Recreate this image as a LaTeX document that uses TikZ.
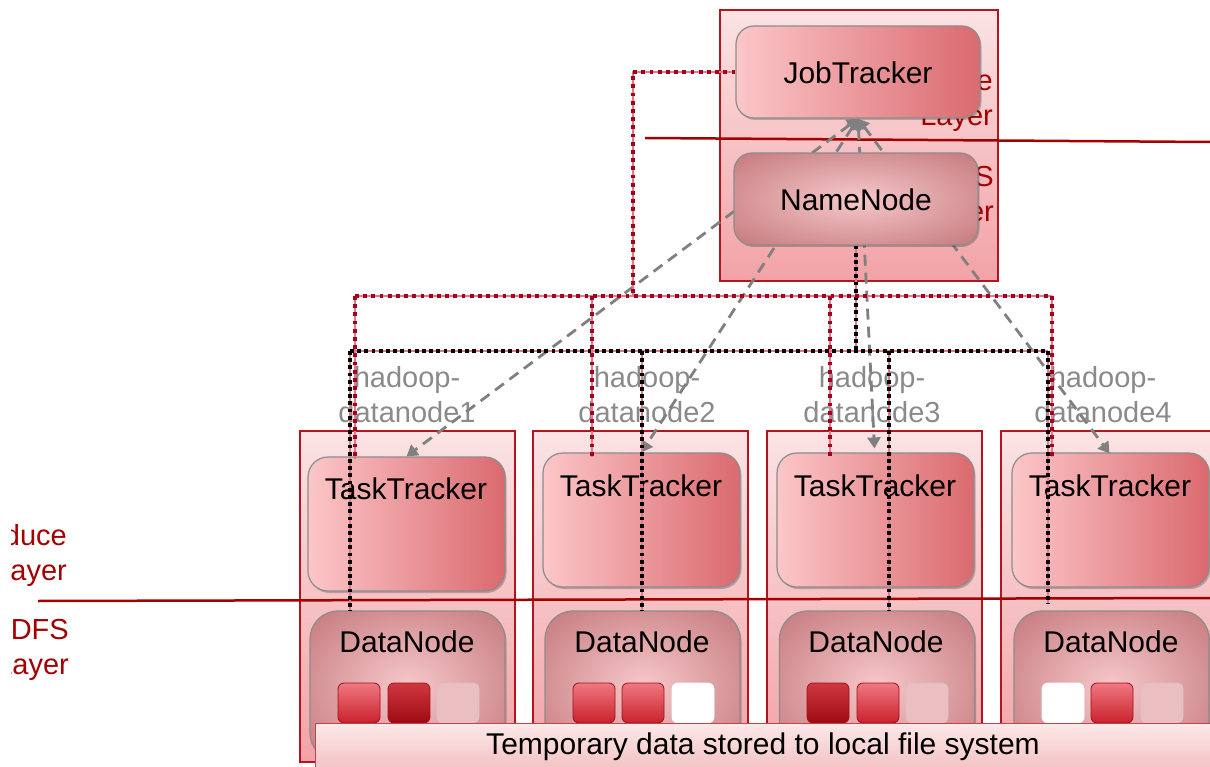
\documentclass[tikz,border=0pt]{standalone}
\usepackage{fontspec}
\setmainfont{Liberation Sans}
\usetikzlibrary{arrows.meta,shadows}

\definecolor{boxtop}{HTML}{FBE3E4}
\definecolor{boxbot}{HTML}{F2A2A6}
\definecolor{boxline}{HTML}{B3141E}
\definecolor{layerred}{HTML}{A30000}
\definecolor{trkL}{HTML}{FCC6C8}
\definecolor{trkR}{HTML}{DA6A6F}
\definecolor{nodeline}{HTML}{8C8C8C}
\definecolor{nnin}{HTML}{F7C8CA}
\definecolor{nnmid}{HTML}{C57A7E}
\definecolor{nnout}{HTML}{A8585D}
\definecolor{nnedge}{HTML}{9E5055}
\definecolor{dotred}{HTML}{A5001E}
\definecolor{linered}{HTML}{E07A86}
\definecolor{dashgray}{HTML}{808080}
\definecolor{lblgray}{HTML}{8A8A8A}
\definecolor{blkA}{HTML}{F07880}
\definecolor{blkB}{HTML}{C8222C}
\definecolor{blkdA}{HTML}{D03840}
\definecolor{blkdB}{HTML}{9E0A12}
\definecolor{blkfade}{HTML}{EBBFC1}
\definecolor{blkline}{HTML}{A0101A}
\definecolor{bartop}{HTML}{FCE8E8}
\definecolor{barbot}{HTML}{F3C2C4}

\pgfdeclareradialshading{nnshade}{\pgfpoint{0bp}{0bp}}{color(0bp)=(nnin); color(35bp)=(nnmid); color(60bp)=(nnout); color(72bp)=(nnedge)}

\tikzset{
  basefont/.style={font=\fontsize{29}{35}\selectfont},
  nodefont/.style={font=\fontsize{30}{36}\selectfont},
  hostbox/.style={draw=boxline, line width=1.2pt, top color=boxtop, bottom color=boxbot},
  softshadow/.style={drop shadow={shadow xshift=1.5pt, shadow yshift=-2pt, opacity=0.22, fill=black}},
  tracker/.style={draw=nodeline, line width=1.2pt, rounded corners=20pt, left color=trkL, right color=trkR, softshadow},
  store/.style={draw=nodeline, line width=1.2pt, rounded corners=28pt, shading=nnshade, softshadow},
  layertxt/.style={basefont, text=layerred, align=right, anchor=east, inner sep=0pt},
  hostlbl/.style={basefont, text=lblgray, align=center, inner sep=0pt},
  plain/.style={nodefont, inner sep=0pt},
  layerline/.style={draw=layerred, line width=2.5pt},
  blk/.style={draw=blkline, line width=0.8pt, rounded corners=6pt, minimum width=42pt, minimum height=40pt, inner sep=0pt},
  blkred/.style={blk, top color=blkA, bottom color=blkB},
  blkdark/.style={blk, top color=blkdA, bottom color=blkdB},
  blkfaded/.style={blk, draw=blkfade!80!black!60, fill=blkfade},
  blkempty/.style={blk, draw=white, fill=white},
  rdots/.style={draw=dotred, line width=3.8pt, dash pattern=on 3.8pt off 4.4pt,
                preaction={draw=linered, line width=1.4pt, solid}},
  bdots/.style={draw=black, line width=3.8pt, dash pattern=on 3.8pt off 3.4pt,
                preaction={draw=linered, line width=1.2pt, solid}},
  heartbeat/.style={draw=dashgray, line width=2.8pt, dash pattern=on 11pt off 7pt,
                {Triangle[width=13pt,length=11pt]}-{Triangle[width=13pt,length=11pt]}},
}

\begin{document}
\begin{tikzpicture}[x=1pt,y=-1pt]
\useasboundingbox (0,0) rectangle (1210,767);

% host boxes
\node[hostbox, minimum width=278pt, minimum height=271pt] (master) at (859,145.5) {};
\node[hostbox, minimum width=215pt, minimum height=331pt] (host1) at (407.5,596.5) {};
\node[hostbox, minimum width=215pt, minimum height=331pt] (host2) at (640.5,596.5) {};
\node[hostbox, minimum width=215pt, minimum height=331pt] (host3) at (874.5,596.5) {};
\node[hostbox, minimum width=215pt, minimum height=331pt] (host4) at (1108.5,596.5) {};

% layer captions (the left pair sits in a text frame cut at its left side)
\begin{scope}
  \clip (11,500) rectangle (120,700);
  \node[layertxt] (mrL) at (67,555) {MapReduce\\Layer};
  \node[layertxt] (hdL) at (69,650) {HDFS\\Layer};
\end{scope}
\node[layertxt] (mrR) at (993,101) {MapReduce\\Layer};
\node[layertxt] (hdR) at (994,197) {HDFS\\Layer};

% layer separators
\coordinate (sepA1) at (645,138);
\coordinate (sepA2) at (1210,142);
\coordinate (sepB1) at (38,601);
\coordinate (sepB2) at (1210,598);
\draw[layerline] (sepA1) -- (sepA2);
\draw[layerline] (sepB1) -- (sepB2);

% host names
\node[hostlbl] (lbl1) at (407,395) {hadoop-\\datanode1};
\node[hostlbl] (lbl2) at (647,395) {hadoop-\\datanode2};
\node[hostlbl] (lbl3) at (872,395) {hadoop-\\datanode3};
\node[hostlbl] (lbl4) at (1103,395) {hadoop-\\datanode4};

% job tracker and task trackers
\node[tracker, minimum width=244pt, minimum height=92pt, rounded corners=18pt] (jt) at (858,72) {};
\node[plain] (jtt) at ([yshift=-1pt]jt.center) {JobTracker};
\node[tracker, minimum width=197pt, minimum height=134pt] (tt1) at (406.5,524) {};
\node[tracker, minimum width=197pt, minimum height=134pt] (tt2) at (641.5,520) {};
\node[tracker, minimum width=197pt, minimum height=134pt] (tt3) at (875.5,520) {};
\node[tracker, minimum width=197pt, minimum height=134pt] (tt4) at (1110.5,520) {};
\node[plain] (tt1t) at (406,489) {TaskTracker};
\node[plain] (tt2t) at (641,486) {TaskTracker};
\node[plain] (tt3t) at (875,486) {TaskTracker};
\node[plain] (tt4t) at (1110,486) {TaskTracker};

% heartbeats between task trackers and the job tracker
\draw[heartbeat] (jt.south) -- (tt1.north);
\draw[heartbeat] (jt.south) -- (tt2.north);
\draw[heartbeat] (jt.south) -- ([xshift=-1pt,yshift=4pt]tt3.north);
\draw[heartbeat] (jt.south) -- ([xshift=-1pt,yshift=-1pt]tt4.north);

% name node and data nodes
\node[store, minimum width=244pt, minimum height=92pt, rounded corners=18pt] (nn) at (856,199) {};
\node[plain] (nnt) at ([yshift=-1pt]nn.center) {NameNode};
\node[store, minimum width=195pt, minimum height=150pt] (dn1) at (407.5,686) {};
\node[store, minimum width=195pt, minimum height=150pt] (dn2) at (642.5,686) {};
\node[store, minimum width=195pt, minimum height=150pt] (dn3) at (877,686) {};
\node[store, minimum width=195pt, minimum height=150pt] (dn4) at (1111.5,686) {};
\node[plain] (dn1t) at (407,642) {DataNode};
\node[plain] (dn2t) at (642,642) {DataNode};
\node[plain] (dn3t) at (876,642) {DataNode};
\node[plain] (dn4t) at (1111,642) {DataNode};

% stored blocks
\node[blkred]   (b11) at (359,703) {};
\node[blkdark]  (b12) at (409,703) {};
\node[blkfaded] (b13) at (458,703) {};
\node[blkred]   (b21) at (594,703) {};
\node[blkred]   (b22) at (643,703) {};
\node[blkempty] (b23) at (693,703) {};
\node[blkdark]  (b31) at (828,703) {};
\node[blkred]   (b32) at (878,703) {};
\node[blkfaded] (b33) at (927,703) {};
\node[blkempty] (b41) at (1063,703) {};
\node[blkred]   (b42) at (1112,703) {};
\node[blkfaded] (b43) at (1162,703) {};

% HDFS control paths: name node to data nodes
\coordinate (hbus) at (856,351);
\coordinate (hbusL) at (350,351);
\coordinate (hbusR) at (1048,351);
\coordinate (hd2) at (642,351);
\coordinate (hd3) at (889,351);
\draw[bdots] (nn.south) -- (hbus);
\draw[bdots] (hbusL) -- (hbusR);
\draw[bdots] (hbusL) -- (hbusL |- dn1.north);
\draw[bdots] (hd2) -- (hd2 |- dn2.north);
\draw[bdots] (hd3) -- (hd3 |- dn3.north);
\draw[bdots] (hbusR) -- ([yshift=6pt]hbusR |- dn4.north);

% MapReduce control paths: job tracker to task trackers
\coordinate (mbend) at (633,296);
\coordinate (mbusL) at (355,296);
\coordinate (mbusR) at (1052,296);
\coordinate (md2) at (592,296);
\coordinate (md3) at (830,296);
\draw[rdots] (jt.west) -| (mbend);
\draw[rdots] (mbusL) -- (mbusR);
\draw[rdots] (mbusL) -- ([yshift=-3pt]mbusL |- tt1.north);
\draw[rdots] (md2) -- ([yshift=-5pt]md2 |- tt2.north);
\draw[rdots] (md3) -- ([yshift=-4pt]md3 |- tt2.north);
\draw[rdots] (mbusR) -- ([yshift=-5pt]mbusR |- tt4.north);

% local storage strip
\node[draw=boxline!80, line width=1pt, top color=bartop, bottom color=barbot,
      minimum width=900pt, minimum height=46pt, anchor=north west] (tmp) at (315,723) {};
\node[plain] (tmpt) at (763,747) {Temporary data stored to local file system};
\end{tikzpicture}
\end{document}
